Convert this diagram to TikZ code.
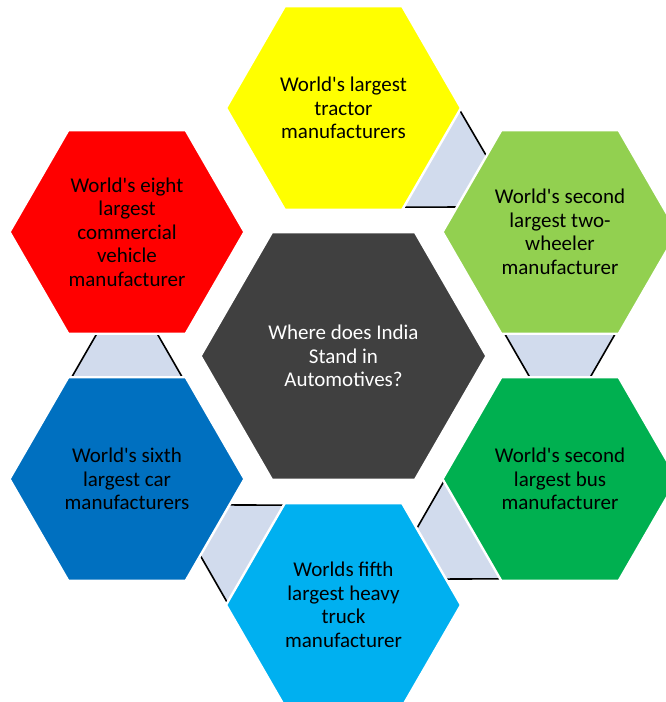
\documentclass[tikz,border=0pt]{standalone}
\usepackage{fontspec}
\setmainfont{Carlito}
\usetikzlibrary{shapes.geometric,calc,backgrounds}

\definecolor{hubgray}{HTML}{404040}
\definecolor{tractorc}{HTML}{FFFF00}
\definecolor{twowheelc}{HTML}{92D050}
\definecolor{busc}{HTML}{00B050}
\definecolor{truckc}{HTML}{00B0F0}
\definecolor{carc}{HTML}{0070C0}
\definecolor{cvc}{HTML}{FF0000}
\definecolor{linkfill}{RGB}{209,219,237}

\begin{document}
\begin{tikzpicture}[x=1pt, y=1pt, % one unit = one pixel of the picture
	hexa/.style={regular polygon, regular polygon sides=6, inner sep=0pt,
		draw=white, line width=2.4pt, minimum size=235pt, align=center,
		font=\fontsize{21}{23.5}\selectfont},
	link/.style={fill=linkfill},
	linkside/.style={line width=1.6pt}]
	\useasboundingbox (0,0) rectangle (665,702);

	\node[hexa, fill=hubgray, minimum size=286pt, text=white] (hub) at (343.5,346)
		{Where does India\\Stand in\\Automotives?};
	\node[hexa, fill=tractorc] (tractor) at (343.5,594)
		{World\textquotesingle s largest\\tractor\\manufacturers};
	\node[hexa, fill=twowheelc] (twowheel) at (560,470)
		{World\textquotesingle s second\\largest two-\\wheeler\\manufacturer};
	\node[hexa, fill=busc] (bus) at (560,223)
		{World\textquotesingle s second\\largest bus\\manufacturer};
	\node[hexa, fill=truckc] (truck) at (343.5,97)
		{Worlds fifth\\largest heavy\\truck\\manufacturer};
	\node[hexa, fill=carc] (car) at (127,223)
		{World\textquotesingle s sixth\\largest car\\manufacturers};
	\node[hexa, fill=cvc] (cv) at (127,470)
		{World\textquotesingle s eight\\largest\\commercial\\vehicle\\manufacturer};

	% links between neighbours, wide end at the first one
	\begin{pgfonlayer}{background}
	\foreach \a/\b in {tractor/twowheel, twowheel/bus, bus/truck,
		truck/car, car/cv} {
		\coordinate (m) at ($(\a)!0.5!(\b)$);
		\coordinate (pa) at ($(m)!27pt!(\a)$);
		\coordinate (pb) at ($(m)!27pt!(\b)$);
		\coordinate (a1) at ($(pa)!58.3pt!90:(\a)$);
		\coordinate (a2) at ($(pa)!58.3pt!-90:(\a)$);
		\coordinate (b1) at ($(pb)!27.2pt!-90:(\b)$);
		\coordinate (b2) at ($(pb)!27.2pt!90:(\b)$);
		\fill[link] (a1) -- (b1) -- (b2) -- (a2) -- cycle;
		\draw[linkside] (a1) -- (b1) (a2) -- (b2);
	}
	\end{pgfonlayer}

\end{tikzpicture}
\end{document}
